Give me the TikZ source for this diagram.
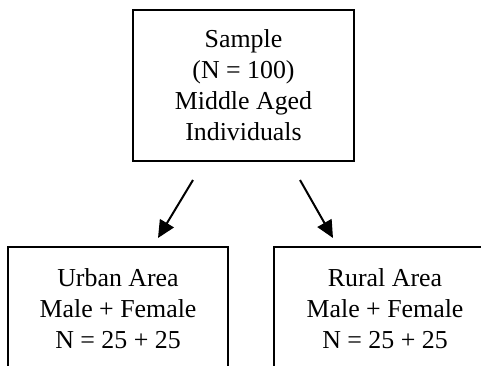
\documentclass[tikz,border=0pt]{standalone}
\usepackage{fontspec}
\setmainfont{Liberation Serif}
\usetikzlibrary{arrows.meta}
\tikzset{
  boxnode/.style={draw=black, line width=1.5pt, rectangle, align=center, inner sep=0pt,
    font=\fontsize{19.4}{23.3}\selectfont},
  arrowline/.style={line width=1.5pt, -{Triangle[length=13pt,width=12pt]}}
}
\begin{document}
\begin{tikzpicture}[x=0.75pt,y=-0.75pt]
\useasboundingbox (0,0) rectangle (481,365);
\clip (0,0) rectangle (481,365);
\node[boxnode, minimum width=221*0.75pt, minimum height=151*0.75pt] (top) at (243.5,85.5)
  {Sample\\(N = 100)\\Middle Aged\\Individuals};
\node[boxnode, minimum width=220*0.75pt, minimum height=124*0.75pt] (urban) at (118,309)
  {Urban Area\\Male + Female\\N = 25 + 25};
\node[boxnode, minimum width=222*0.75pt, minimum height=124*0.75pt] (rural) at (385,309)
  {Rural Area\\Male + Female\\N = 25 + 25};
\coordinate (s1) at (193,180);
\coordinate (e1) at (158,238);
\coordinate (s2) at (300,180);
\coordinate (e2) at (333,238);
\draw[arrowline] (s1) -- (e1);
\draw[arrowline] (s2) -- (e2);
\end{tikzpicture}
\end{document}
